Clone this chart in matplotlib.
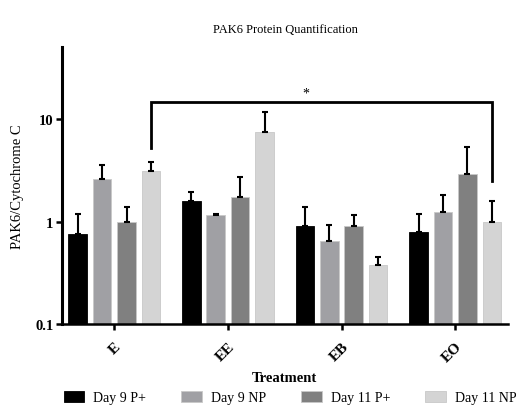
import numpy as np
import matplotlib
matplotlib.use("Agg")
import matplotlib.pyplot as plt

plt.rcParams["font.family"] = ["Liberation Serif", "DejaVu Serif"]

treatments = ["E", "EE", "EB", "EO"]
series = ["Day 9 P+", "Day 9 NP", "Day 11 P+", "Day 11 NP"]
colors = ["#000000", "#a0a0a4", "#808080", "#d4d4d4"]

# bar heights (mean) per series, across treatments
means = {
    "Day 9 P+": [0.76, 1.60, 0.91, 0.79],
    "Day 9 NP": [2.61, 1.16, 0.655, 1.25],
    "Day 11 P+": [1.00, 1.76, 0.91, 2.90],
    "Day 11 NP": [3.10, 7.55, 0.38, 1.00],
}
# top of the error bar
err_top = {
    "Day 9 P+": [1.19, 1.94, 1.38, 1.19],
    "Day 9 NP": [3.56, 1.18, 0.92, 1.83],
    "Day 11 P+": [1.38, 2.73, 1.16, 5.29],
    "Day 11 NP": [3.83, 11.8, 0.45, 1.59],
}

fig = plt.figure(figsize=(5.16, 4.10), dpi=100)
ax = fig.add_axes([0.1196, 0.2066, 0.8644, 0.6754])

x = np.arange(len(treatments))
width = 0.163
stride = 0.215
for i, s in enumerate(series):
    pos = x + (i - 1.5) * stride
    m = np.array(means[s])
    t = np.array(err_top[s])
    ax.bar(pos, m, width=width, color=colors[i], edgecolor="#c8c8c8" if i else "#000000",
           linewidth=0.6, label=s, zorder=2)
    ax.errorbar(pos, m, yerr=[np.zeros_like(m), t - m], fmt="none", ecolor="black",
                elinewidth=1.5, capsize=2.5, capthick=1.5, zorder=3)

ax.set_yscale("log")
ax.set_ylim(0.1, 50)
ax.set_xlim(-0.463, 3.463)
ax.set_yticks([0.1, 1, 10])
ax.set_yticklabels(["0.1", "1", "10"], fontweight="bold", fontsize=10.5)
ax.yaxis.set_minor_locator(matplotlib.ticker.NullLocator())
ax.set_xticks(x)
ax.set_xticklabels(treatments, rotation=45, ha="right", rotation_mode="anchor",
                   fontweight="bold", fontsize=11)
ax.tick_params(axis="both", width=1.8, length=4)
ax.tick_params(axis="x", pad=7)
ax.tick_params(axis="y", pad=2)
for side in ["top", "right"]:
    ax.spines[side].set_visible(False)
ax.spines["left"].set_linewidth(2.2)
ax.spines["bottom"].set_linewidth(1.8)

ax.set_ylabel("PAK6/Cytochrome C", fontsize=10.5)
ax.yaxis.set_label_coords(-0.085, 0.5)
ax.set_xlabel("Treatment", fontweight="bold", fontsize=10.5)
ax.xaxis.set_label_coords(0.5, -0.17)
fig.text(0.553, 0.927, "PAK6 Protein Quantification", ha="center", va="center", fontsize=9)

# significance bracket between E / Day 11 NP and EO / Day 11 NP
x_left = x[0] + 1.5 * stride
x_right = x[3] + 1.5 * stride
ax.plot([x_left, x_left, x_right, x_right], [5.17, 14.6, 14.6, 2.5],
        color="black", linewidth=2.0, zorder=4, solid_joinstyle="miter")
ax.text(1.69, 18.0, "*", ha="center", va="center", fontsize=10)

fig.legend(loc="center", bbox_to_anchor=(0.562, 0.027), ncol=4, frameon=False,
           fontsize=10, handlelength=1.5, handleheight=0.8, columnspacing=2.5,
           handletextpad=0.65, borderpad=0, borderaxespad=0)

fig.savefig("out.png", dpi=100)
